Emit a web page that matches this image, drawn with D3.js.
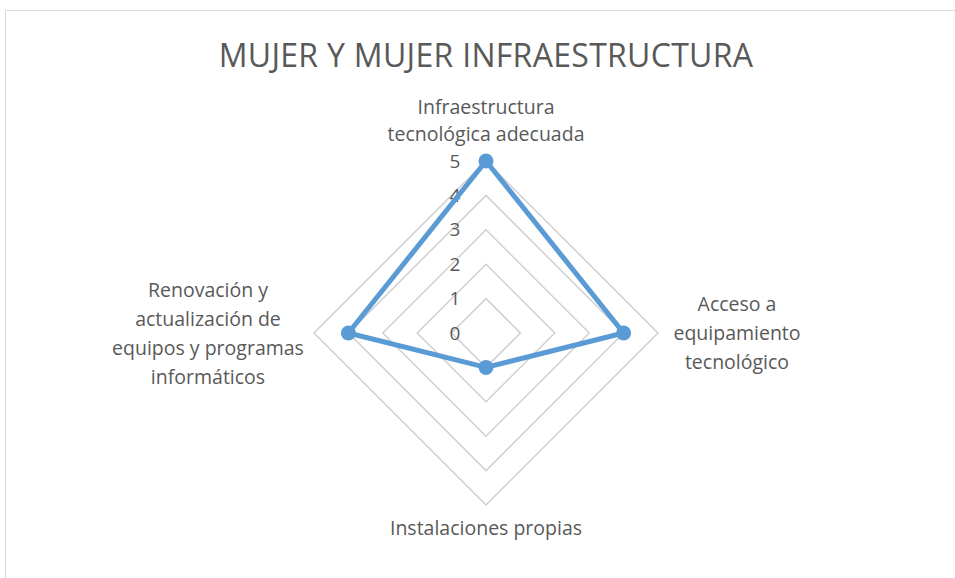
<!DOCTYPE html>
<html>
<head>
<meta charset="utf-8">
<script src="https://cdn.jsdelivr.net/npm/d3@7"></script>
<style>
  body { margin: 0; background: #fff; }
  text { font-family: "Open Sans", "Noto Sans", sans-serif; fill: #595959; }
</style>
</head>
<body>
<div id="chart"></div>
<script>
const chartTitle = "MUJER Y MUJER INFRAESTRUCTURA";
const categories = [
  ["Infraestructura", "tecnológica adecuada"],
  ["Acceso a", "equipamiento", "tecnológico"],
  ["Instalaciones propias"],
  ["Renovación y", "actualización de", "equipos y programas", "informáticos"]
];
const values = [5, 4, 1, 4];
const ticks = [0, 1, 2, 3, 4, 5];

function createRadar(container, {width, height}) {
  const cx = 486, cy = 333, radius = 172;

  const svg = d3.select(container)
    .append("svg")
      .attr("width", width)
      .attr("height", height);

  // chart frame (cut off at right/bottom like the screenshot)
  svg.append("rect")
    .attr("x", 5.5).attr("y", 10.5)
    .attr("width", 960).attr("height", 600)
    .attr("fill", "#fff")
    .attr("stroke", "#d9d9d9")
    .attr("stroke-width", 1);

  svg.append("text")
    .attr("x", cx)
    .attr("y", 67)
    .attr("text-anchor", "middle")
    .style("font-size", "32px")
    .style("letter-spacing", "0.3px")
    .text(chartTitle);

  const r = d3.scaleLinear().domain([0, 5]).range([0, radius]);
  const angle = i => i * 2 * Math.PI / categories.length;
  const pt = (i, v) => [cx + r(v) * Math.sin(angle(i)), cy - r(v) * Math.cos(angle(i))];

  const g = svg.append("g");

  // grid rings
  ticks.slice(1).forEach(t => {
    g.append("path")
      .attr("d", d3.line()(categories.map((c, i) => pt(i, t))) + "Z")
      .attr("fill", "none")
      .attr("stroke", "#d0d0d0")
      .attr("stroke-width", 1.5);
  });

  // tick labels
  g.selectAll("text.tick")
    .data(ticks)
    .join("text")
      .attr("class", "tick")
      .attr("x", cx - 31)
      .attr("y", d => cy - r(d))
      .attr("dy", "0.35em")
      .attr("text-anchor", "middle")
      .style("font-size", "19px")
      .text(d => d);

  // series
  g.append("path")
    .attr("d", d3.line()(values.map((v, i) => pt(i, v))) + "Z")
    .attr("fill", "none")
    .attr("stroke", "#5b9bd5")
    .attr("stroke-width", 5)
    .attr("stroke-linejoin", "round");

  g.selectAll("circle")
    .data(values)
    .join("circle")
      .attr("cx", (d, i) => pt(i, d)[0])
      .attr("cy", (d, i) => pt(i, d)[1])
      .attr("r", 7.5)
      .attr("fill", "#5b9bd5");

  // category labels
  const labelPos = [
    {x: cx, y: 107, lh: 27},
    {x: 737, y: 304, lh: 29},
    {x: cx, y: 528, lh: 29},
    {x: 208, y: 290, lh: 29}
  ];
  categories.forEach((lines, i) => {
    const t = svg.append("text")
      .attr("text-anchor", "middle")
      .style("font-size", "19.5px");
    lines.forEach((ln, k) => {
      t.append("tspan")
        .attr("x", labelPos[i].x)
        .attr("y", labelPos[i].y + k * labelPos[i].lh)
        .attr("dy", "0.35em")
        .text(ln);
    });
  });

  return svg;
}

createRadar(document.getElementById("chart"), {width: 955, height: 578});
</script>
</body>
</html>
